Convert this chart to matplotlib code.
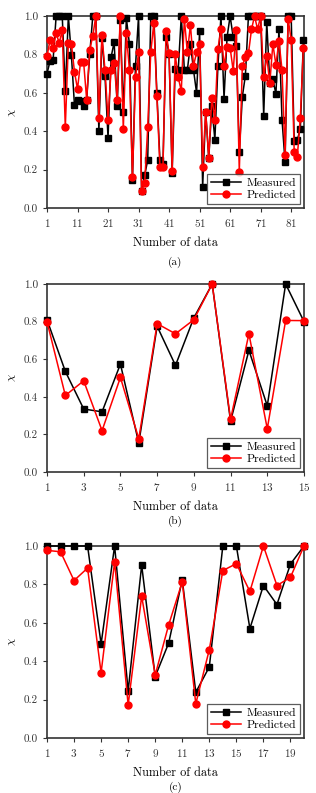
import numpy as np
import matplotlib
matplotlib.use('Agg')
import matplotlib.pyplot as plt

plt.rcParams['font.family'] = ['cmr10', 'DejaVu Serif']
plt.rcParams['axes.formatter.use_mathtext'] = True
plt.rcParams['mathtext.fontset'] = 'cm'

# panel (a): 85 samples
a_measured = [0.70, 0.765, 0.77, 1.0, 1.0, 1.0, 0.61, 1.0, 0.795, 0.535,
              0.565, 0.557, 0.53, 0.565, 0.80, 1.0, 1.0, 0.40, 0.885, 0.69,
              0.365, 0.785, 0.865, 0.53, 0.98, 0.50, 0.99, 0.855, 0.145, 0.74,
              1.0, 0.09, 0.17, 0.25, 1.0, 1.0, 0.60, 0.25, 0.23, 0.89,
              0.80, 0.18, 0.725, 0.72, 1.0, 0.72, 0.72, 0.855, 0.72, 0.60,
              0.92, 0.11, 0.50, 0.26, 0.53, 0.355, 0.74, 1.0, 0.57, 0.89,
              1.0, 0.89, 0.845, 0.29, 0.58, 0.69, 1.0, 1.0, 1.0, 1.0,
              1.0, 0.48, 0.97, 0.65, 0.67, 0.595, 0.93, 0.46, 0.24, 1.0,
              1.0, 0.35, 0.355, 0.41, 0.875]
a_predicted = [0.79, 0.875, 0.835, 0.91, 0.86, 0.925, 0.42, 0.86, 0.855, 0.71,
               0.62, 0.76, 0.76, 0.565, 0.825, 0.895, 1.0, 0.47, 0.90, 0.72,
               0.46, 0.72, 0.755, 0.565, 1.0, 0.41, 0.91, 0.72, 0.16, 0.68,
               0.81, 0.09, 0.13, 0.42, 0.81, 0.965, 0.585, 0.215, 0.215, 0.92,
               0.805, 0.195, 0.80, 0.68, 0.61, 0.985, 0.81, 0.955, 0.74, 0.81,
               0.855, 0.215, 0.50, 0.26, 0.575, 0.46, 0.83, 0.93, 0.74, 0.84,
               0.835, 0.715, 0.925, 0.19, 0.74, 0.785, 0.805, 0.93, 1.0, 0.93,
               1.0, 0.68, 0.79, 0.65, 0.855, 0.745, 0.87, 0.72, 0.275, 0.985,
               0.875, 0.29, 0.265, 0.47, 0.835]

# panel (b): 15 samples
b_measured = [0.81, 0.535, 0.335, 0.32, 0.574, 0.154, 0.775, 0.567, 0.82, 1.0,
              0.27, 0.647, 0.352, 1.0, 0.80]
b_predicted = [0.80, 0.407, 0.485, 0.22, 0.503, 0.177, 0.789, 0.735, 0.81, 1.0,
               0.28, 0.735, 0.23, 0.806, 0.805]

# panel (c): 20 samples
c_measured = [1.0, 1.0, 1.0, 1.0, 0.49, 1.0, 0.245, 0.90, 0.32, 0.495,
              0.825, 0.238, 0.37, 1.0, 1.0, 0.57, 0.794, 0.695, 0.906, 1.0]
c_predicted = [0.977, 0.97, 0.82, 0.885, 0.34, 0.917, 0.172, 0.738, 0.328, 0.59,
               0.813, 0.178, 0.46, 0.872, 0.908, 0.763, 1.0, 0.794, 0.837, 1.0]

panels = [
    (a_measured, a_predicted, list(range(1, 82, 10)), 85.2, '(a)'),
    (b_measured, b_predicted, list(range(1, 16, 2)), 15, '(b)'),
    (c_measured, c_predicted, list(range(1, 20, 2)), 20, '(c)'),
]
# axes boxes in figure fractions: left, bottom, width, height
boxes = [
    [0.1487, 0.7377, 0.8133, 0.2421],
    [0.1487, 0.4048, 0.8133, 0.2371],
    [0.1487, 0.0694, 0.8133, 0.2421],
]
caption_y = [0.662, 0.336, 0.000]

fig = plt.figure(figsize=(3.16, 7.93), dpi=100)

for (meas, pred, xt, xmax, tag), box, cy in zip(panels, boxes, caption_y):
    ax = fig.add_axes(box)
    x = np.arange(1, len(meas) + 1)
    ax.plot(x, meas, '-s', color='black', linewidth=1.1, markersize=5,
            clip_on=False, zorder=3, label='Measured')
    ax.plot(x, pred, '-o', color='#ff0000', linewidth=1.1, markersize=5,
            clip_on=False, zorder=4, label='Predicted')
    ax.set_xlim(1, xmax)
    ax.set_ylim(0, 1.0)
    ax.set_xticks(xt)
    ax.set_yticks([0.0, 0.2, 0.4, 0.6, 0.8, 1.0])
    ax.set_yticklabels(['0.0', '0.2', '0.4', '0.6', '0.8', '1.0'])
    ax.tick_params(labelsize=8, length=3, width=0.8, colors='#333333')
    for s in ax.spines.values():
        s.set_linewidth(1.2)
        s.set_color('#333333')
    ax.set_xlabel('Number of data', fontsize=8.8, labelpad=6)
    ax.set_ylabel(r'$\chi$', fontsize=8.5, labelpad=4)
    leg = ax.legend(loc='lower right', fontsize=8.5, frameon=True, fancybox=False,
                    handlelength=2.6, borderpad=0.3, labelspacing=0.15,
                    handletextpad=0.45, borderaxespad=0.35)
    leg.get_frame().set_edgecolor('#333333')
    leg.get_frame().set_linewidth(0.9)
    fig.text(box[0] + box[2] / 2, cy, tag, ha='center', va='bottom', fontsize=8)

fig.savefig('out.png', dpi=100)
